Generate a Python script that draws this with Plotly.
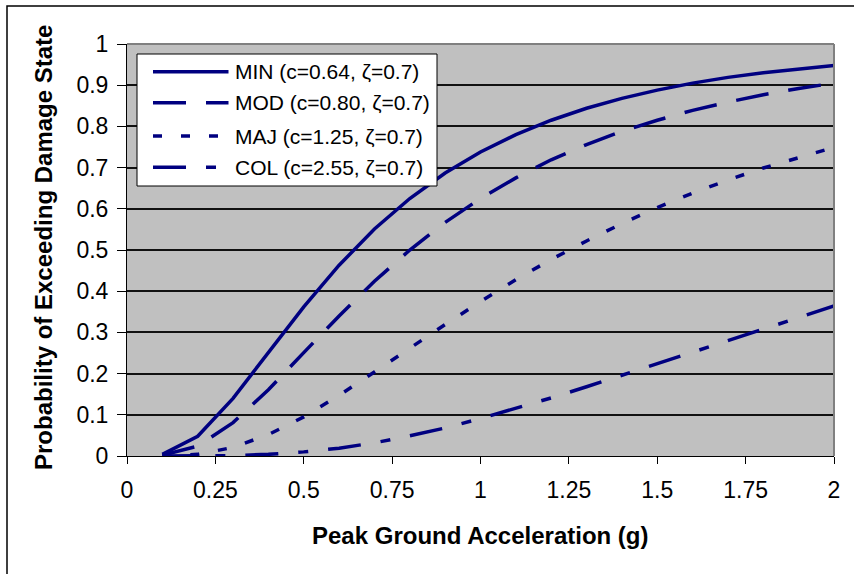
import plotly.graph_objects as go

# ---------------- data ----------------
pga = [0.1, 0.2, 0.3, 0.4, 0.5, 0.6, 0.7, 0.8, 0.9, 1.0,
       1.1, 1.2, 1.3, 1.4, 1.5, 1.6, 1.7, 1.8, 1.9, 2.0]
p_min = [0.004, 0.048, 0.140, 0.251, 0.362, 0.463, 0.551, 0.625, 0.687, 0.738,
         0.780, 0.815, 0.844, 0.868, 0.888, 0.905, 0.919, 0.930, 0.940, 0.948]
p_mod = [0.002, 0.024, 0.081, 0.161, 0.251, 0.340, 0.424, 0.500, 0.567, 0.625,
         0.675, 0.719, 0.756, 0.788, 0.815, 0.839, 0.859, 0.877, 0.892, 0.905]
p_maj = [0.000, 0.004, 0.021, 0.052, 0.095, 0.147, 0.204, 0.262, 0.319, 0.375,
         0.428, 0.477, 0.522, 0.564, 0.603, 0.638, 0.670, 0.699, 0.725, 0.749]
p_col = [0.000, 0.000, 0.001, 0.004, 0.010, 0.019, 0.032, 0.049, 0.068, 0.091,
         0.115, 0.141, 0.168, 0.196, 0.224, 0.253, 0.281, 0.309, 0.337, 0.364]

series_names = ["MIN (c=0.64, ζ=0.7)", "MOD (c=0.80, ζ=0.7)",
                "MAJ (c=1.25, ζ=0.7)", "COL (c=2.55, ζ=0.7)"]
series_values = [p_min, p_mod, p_maj, p_col]
series_dash = ["solid", "33px,20px", "9px,19px", "33px,20px,10px,20px"]

x_ticks = [0, 0.25, 0.5, 0.75, 1, 1.25, 1.5, 1.75, 2]
x_ticklabels = ["0", "0.25", "0.5", "0.75", "1", "1.25", "1.5", "1.75", "2"]
y_ticks = [0, 0.1, 0.2, 0.3, 0.4, 0.5, 0.6, 0.7, 0.8, 0.9, 1]
y_ticklabels = ["0", "0.1", "0.2", "0.3", "0.4", "0.5", "0.6", "0.7", "0.8", "0.9", "1"]

x_title = "Peak Ground Acceleration (g)"
y_title = "Probability of Exceeding Damage State"

# ---------------- layout geometry ----------------
WIDTH, HEIGHT = 854, 574
L, R, T, B = 127, 834, 44, 456
PW, PH = R - L, B - T
NAVY = "#000080"
FONT = "Arial, Liberation Sans, sans-serif"


def px(x):
    return (x - L) / PW


def py(y):
    return (B - y) / PH


fig = go.Figure()
for name, vals, dash in zip(series_names, series_values, series_dash):
    fig.add_trace(go.Scatter(
        x=pga, y=vals, mode="lines", name=name,
        line=dict(color=NAVY, width=3.5, dash=dash),
        showlegend=False,
    ))

shapes = []
annotations = []

# outer chart frame (right/bottom edges fall outside the picture)
shapes.append(dict(type="rect", xref="paper", yref="paper",
                   x0=px(7), x1=px(870), y0=py(6), y1=py(590),
                   line=dict(color="black", width=1.5), layer="above"))
# plot-area border (top and right, grey)
shapes.append(dict(type="line", xref="paper", yref="paper",
                   x0=0, x1=1, y0=1, y1=1,
                   line=dict(color="#808080", width=2), layer="above"))
shapes.append(dict(type="line", xref="paper", yref="paper",
                   x0=1, x1=1, y0=0, y1=1,
                   line=dict(color="#808080", width=2), layer="above"))

# legend box
shapes.append(dict(type="rect", xref="paper", yref="paper",
                   x0=px(137), x1=px(437), y0=py(54), y1=py(186),
                   fillcolor="white", line=dict(color="black", width=1),
                   layer="above"))
row_y = [71.7, 102.7, 136.0, 167.3]
for name, dash, ry in zip(series_names, series_dash, row_y):
    shapes.append(dict(type="line", xref="paper", yref="paper",
                       x0=px(153), x1=px(228.5), y0=py(ry), y1=py(ry),
                       line=dict(color=NAVY, width=3.5, dash=dash),
                       layer="above"))
    annotations.append(dict(xref="paper", yref="paper", x=px(233), y=py(ry),
                            text=name, showarrow=False, xanchor="left",
                            yanchor="middle",
                            font=dict(family=FONT, size=21, color="black")))

# axis titles
annotations.append(dict(xref="paper", yref="paper", x=px(480.5), y=py(535),
                        text="<b>" + x_title + "</b>", showarrow=False,
                        xanchor="center", yanchor="middle",
                        font=dict(family=FONT, size=24, color="black")))
annotations.append(dict(xref="paper", yref="paper", x=px(43), y=py(248),
                        text="<b>" + y_title + "</b>", showarrow=False,
                        textangle=-90, xanchor="center", yanchor="middle",
                        font=dict(family=FONT, size=24, color="black")))

fig.update_layout(
    width=WIDTH, height=HEIGHT,
    margin=dict(l=L, r=WIDTH - R, t=T, b=HEIGHT - B, pad=0),
    paper_bgcolor="white", plot_bgcolor="#C0C0C0",
    showlegend=False,
    shapes=shapes, annotations=annotations,
    xaxis=dict(range=[0, 2], tickmode="array", tickvals=x_ticks,
               ticktext=x_ticklabels, ticks="outside", ticklen=7,
               tickcolor="black", tickwidth=1, ticklabelstandoff=6,
               showline=True, linecolor="black", linewidth=1,
               showgrid=False, zeroline=False, fixedrange=True,
               tickfont=dict(family=FONT, size=23, color="black")),
    yaxis=dict(range=[0, 1], tickmode="array", tickvals=y_ticks,
               ticktext=y_ticklabels, ticks="outside", ticklen=9,
               tickcolor="black", tickwidth=1, ticklabelstandoff=4,
               showline=True, linecolor="black", linewidth=1,
               showgrid=True, gridcolor="#111111", gridwidth=1.5,
               zeroline=False, fixedrange=True,
               tickfont=dict(family=FONT, size=23, color="black")),
)

fig.write_html("out.html")
